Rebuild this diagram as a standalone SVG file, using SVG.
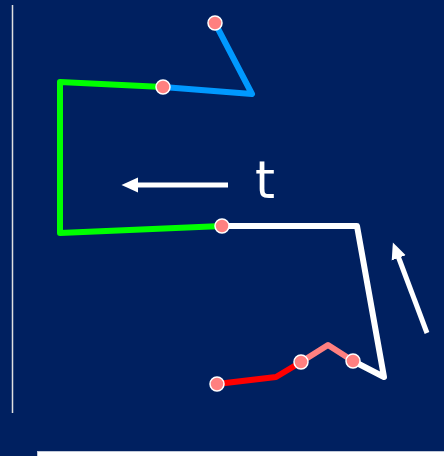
<svg xmlns="http://www.w3.org/2000/svg" width="444" height="456" viewBox="0 0 444 456">
  <style>
    .seg { fill: none; stroke-width: 6; stroke-linejoin: round; stroke-linecap: round; }
    .dot { fill: #FF8080; stroke: #FFFFFF; stroke-width: 1.5; }
    .arrow { stroke: #FFFFFF; stroke-width: 5; fill: none; }
  </style>
  <defs>
    <marker id="ah" markerWidth="4" markerHeight="4" refX="0.4" refY="2" orient="auto" markerUnits="strokeWidth" viewBox="0 0 4 4">
      <path d="M0,0.5 L3.3,2 L0,3.5 Z" fill="#FFFFFF"/>
    </marker>
  </defs>
  <rect x="0" y="0" width="444" height="456" fill="#002060"/>
  <line x1="12.5" y1="5" x2="12.5" y2="413" stroke="#E0E0E0" stroke-width="1.5"/>
  <rect x="37.5" y="451.5" width="407" height="6" fill="#FFFFFF" stroke="#C0C8D8" stroke-width="1"/>
  <g id="connectors">
    <polyline class="seg" stroke="#0099FF" points="215,23 252,94 163,87"/>
    <polyline class="seg" stroke="#00FF00" points="163,87 60,82 60,233 222,226"/>
    <polyline class="seg" stroke="#FFFFFF" points="222,226 357,226 384,377 353,361"/>
    <polyline class="seg" stroke="#FF8080" points="353,361 328,345 301,362"/>
    <polyline class="seg" stroke="#FF0000" points="301,362 276,377 217,384"/>
    <line class="arrow" x1="228" y1="185" x2="136" y2="185" marker-end="url(#ah)"/>
    <line class="arrow" x1="427" y1="333" x2="398" y2="256" marker-end="url(#ah)"/>
  </g>
  <g id="label-t">
    <text x="255" y="198" font-family="'DejaVu Sans', sans-serif" font-size="51" fill="#FFFFFF">t</text>
  </g>
  <g id="p1"><circle class="dot" cx="215" cy="23" r="7"/></g>
  <g id="p2"><circle class="dot" cx="163" cy="87" r="7"/></g>
  <g id="p3"><circle class="dot" cx="222" cy="226" r="7"/></g>
  <g id="p4"><circle class="dot" cx="353" cy="361" r="7"/></g>
  <g id="p5"><circle class="dot" cx="301" cy="362" r="7"/></g>
  <g id="p6"><circle class="dot" cx="217" cy="384" r="7"/></g>
</svg>
